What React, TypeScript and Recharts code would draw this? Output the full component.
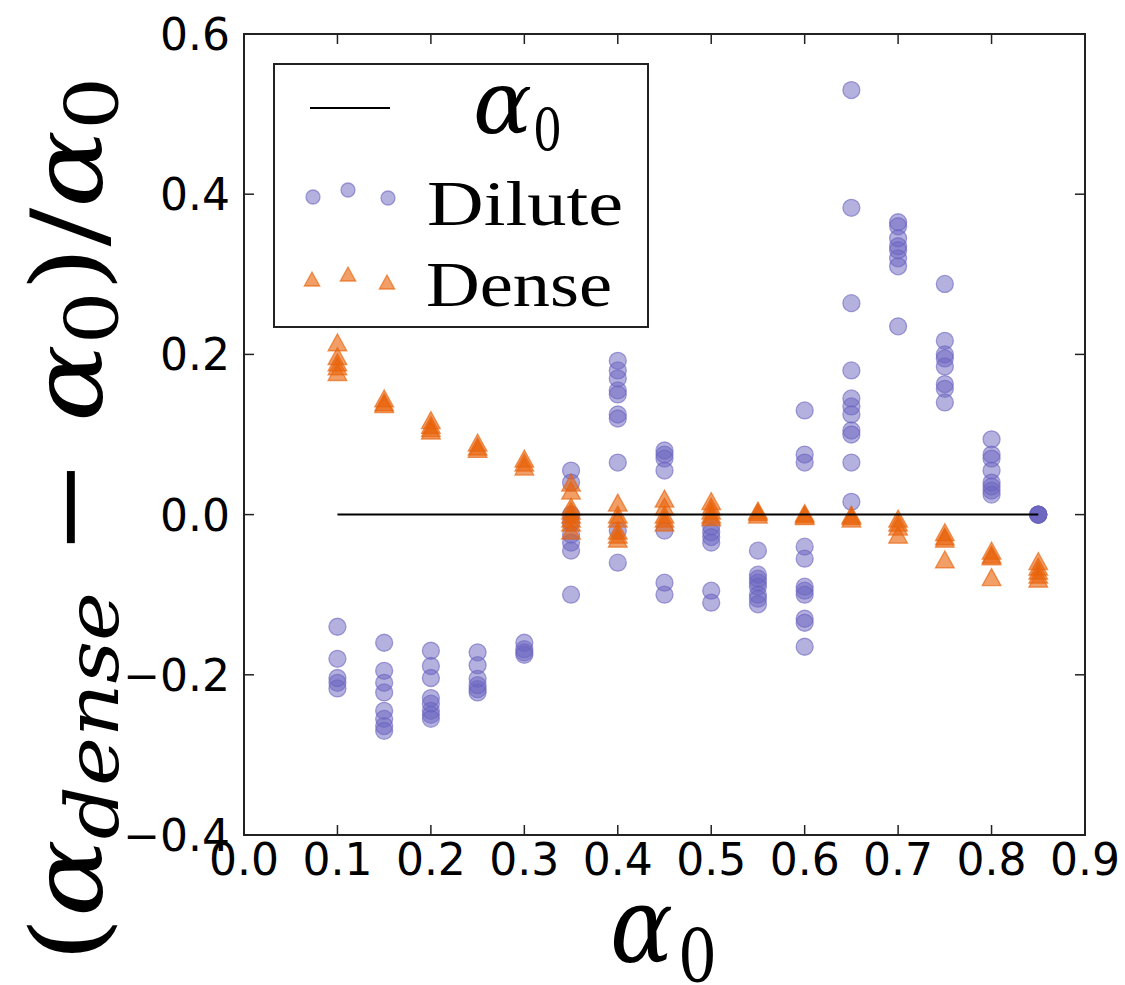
import React from "react";
import {
  Label,
  Legend,
  ReferenceArea,
  Scatter,
  ScatterChart,
  XAxis,
  YAxis,
} from "recharts";

// alpha_0 values where the runs were made
const ALPHA0 = [0.1, 0.15, 0.2, 0.25, 0.3, 0.35, 0.4, 0.45, 0.5, 0.55, 0.6, 0.65, 0.7, 0.75, 0.8, 0.85];

// relative error per run, one list for each alpha_0
const DILUTE_VALUES = [
  [-0.14, -0.18, -0.204, -0.21, -0.217],
  [-0.16, -0.195, -0.21, -0.222, -0.245, -0.255, -0.264, -0.27],
  [-0.17, -0.189, -0.204, -0.229, -0.236, -0.245, -0.25, -0.255],
  [-0.172, -0.188, -0.205, -0.213, -0.218, -0.222],
  [-0.16, -0.168, -0.172, -0.175],
  [0.055, 0.04, 0.0, -0.01, -0.025, -0.035, -0.045, -0.1],
  [0.192, 0.18, 0.17, 0.155, 0.15, 0.125, 0.12, 0.065, -0.02, -0.06],
  [0.08, 0.075, 0.07, 0.055, -0.02, -0.085, -0.1],
  [-0.015, -0.022, -0.028, -0.035, -0.095, -0.11],
  [-0.045, -0.075, -0.08, -0.085, -0.09, -0.1, -0.105, -0.112],
  [0.13, 0.075, 0.065, -0.04, -0.055, -0.09, -0.095, -0.1, -0.13, -0.135, -0.165],
  [0.53, 0.383, 0.264, 0.18, 0.145, 0.135, 0.125, 0.105, 0.1, 0.065, 0.016],
  [0.365, 0.36, 0.345, 0.335, 0.33, 0.32, 0.31, 0.235],
  [0.288, 0.217, 0.2, 0.195, 0.185, 0.163, 0.157, 0.14],
  [0.094, 0.075, 0.07, 0.055, 0.04, 0.035, 0.03, 0.025],
  [0, 0, 0, 0, 0],
];

const DENSE_VALUES = [
  [0.215, 0.198, 0.19, 0.185, 0.178],
  [0.145, 0.14, 0.138],
  [0.118, 0.112, 0.108, 0.105],
  [0.09, 0.085, 0.082],
  [0.07, 0.065, 0.06],
  [0.04, 0.03, 0.01, 0.005, 0.0, -0.005, -0.01, -0.02],
  [0.015, 0.0, -0.005, -0.02, -0.025, -0.03],
  [0.02, 0.01, 0.0, -0.005, -0.01],
  [0.017, 0.01, 0.005, 0.0, -0.003],
  [0.005, 0.003, 0.0],
  [0.002, 0.0, -0.002],
  [0.0, -0.002, -0.005],
  [-0.005, -0.01, -0.015, -0.025],
  [-0.022, -0.027, -0.03, -0.056],
  [-0.045, -0.05, -0.052, -0.078],
  [-0.058, -0.065, -0.07, -0.075, -0.08],
];

const REF_X = [0.1, 0.85];
const X_TICKS = [0, 0.1, 0.2, 0.3, 0.4, 0.5, 0.6, 0.7, 0.8, 0.9];
const Y_TICKS = [-0.4, -0.2, 0, 0.2, 0.4, 0.6];

const PURPLE = "#6a64c0";
const ORANGE = "#e8620a";

const W = 1125;
const H = 985;
const TOP = 34;
const RIGHT = 1085;
const TICK_LEN = 10;
const TICK_FONT = "DejaVu Sans, sans-serif";
const SERIF = "Liberation Serif, serif";
const MATH = "DejaVu Serif, serif";

const dilute = ALPHA0.flatMap((x, i) => DILUTE_VALUES[i].map((y) => ({ x, y })));
const dense = ALPHA0.flatMap((x, i) => DENSE_VALUES[i].map((y) => ({ x, y })));
const refLine = REF_X.map((x) => ({ x, y: 0 }));

function fmt(v: number) {
  const s = Math.abs(v).toFixed(1);
  return v < -1e-9 ? "\u2212" + s : s;
}

function CircleMark({ cx, cy, r = 8.5 }: any) {
  return (
    <circle
      cx={cx}
      cy={cy}
      r={r}
      fill={PURPLE}
      fillOpacity={0.5}
      stroke={PURPLE}
      strokeOpacity={0.6}
      strokeWidth={1.3}
    />
  );
}

function TriangleMark({ cx, cy, s = 8.5 }: any) {
  const pts = `${cx},${cy - s} ${cx - s * 1.1},${cy + s} ${cx + s * 1.1},${cy + s}`;
  return (
    <polygon
      points={pts}
      fill={ORANGE}
      fillOpacity={0.62}
      stroke={ORANGE}
      strokeOpacity={0.65}
      strokeWidth={1.3}
    />
  );
}

const NoMark = () => <g />;

function XTick({ x, y, payload }: any) {
  return (
    <g>
      <line x1={x} y1={y} x2={x} y2={y - TICK_LEN} stroke="#222" strokeWidth={1.5} />
      <line x1={x} y1={TOP} x2={x} y2={TOP + TICK_LEN} stroke="#222" strokeWidth={1.5} />
      <text x={x} y={y + 40} textAnchor="middle" fontFamily={TICK_FONT} fontSize={44} fill="#000">
        {fmt(payload.value)}
      </text>
    </g>
  );
}

function YTick({ x, y, payload }: any) {
  return (
    <g>
      <line x1={x} y1={y} x2={x + TICK_LEN} y2={y} stroke="#222" strokeWidth={1.5} />
      <line x1={RIGHT - TICK_LEN} y1={y} x2={RIGHT} y2={y} stroke="#222" strokeWidth={1.5} />
      <text x={x - 14} y={y + 16} textAnchor="end" fontFamily={TICK_FONT} fontSize={44} fill="#000">
        {fmt(payload.value)}
      </text>
    </g>
  );
}

function XTitle() {
  return (
    <g fontFamily={MATH}>
      <text x={610} y={962} fontSize={104} fontStyle="italic" textLength={63} lengthAdjust="spacingAndGlyphs">
        α
      </text>
      <text x={678} y={982} fontSize={72} textLength={39} lengthAdjust="spacingAndGlyphs">
        0
      </text>
    </g>
  );
}

function YTitle() {
  return (
    <g transform="translate(102, 962) rotate(-90)" fontFamily={MATH}>
      <text x={0} y={0} fontSize={100} textLength={885} lengthAdjust="spacingAndGlyphs">
        <tspan>(</tspan>
        <tspan fontStyle="italic">α</tspan>
        <tspan fontStyle="italic" fontSize={72} dy={16}>dense</tspan>
        <tspan dy={-16}>{"\u00a0\u2212\u00a0"}</tspan>
        <tspan fontStyle="italic">α</tspan>
        <tspan fontSize={72} dy={16}>0</tspan>
        <tspan dy={-16}>)/</tspan>
        <tspan fontStyle="italic">α</tspan>
        <tspan fontSize={72} dy={16}>0</tspan>
      </text>
    </g>
  );
}

const LX = 273;
const LY = 63;
const LW = 376;
const LH = 265;

function LegendBox() {
  const p = (x: number, y: number) => ({ cx: x - LX, cy: y - LY });
  return (
    <svg width={LW} height={LH} style={{ display: "block" }}>
      <rect x={1} y={1} width={LW - 2} height={LH - 2} fill="#fff" stroke="#222" strokeWidth={2} />
      <line x1={310 - LX} y1={108 - LY} x2={390 - LX} y2={108 - LY} stroke="#000" strokeWidth={2} />
      <text x={473 - LX} y={133 - LY} fontFamily={MATH} fontSize={88} fontStyle="italic" textLength={59} lengthAdjust="spacingAndGlyphs">
        α
      </text>
      <text x={533 - LX} y={150 - LY} fontFamily={MATH} fontSize={58} textLength={29} lengthAdjust="spacingAndGlyphs">
        0
      </text>
      <g fontFamily={SERIF}>
        <text x={427 - LX} y={225 - LY} fontSize={64} textLength={196} lengthAdjust="spacingAndGlyphs">
          Dilute
        </text>
        <text x={426 - LX} y={306 - LY} fontSize={64} textLength={186} lengthAdjust="spacingAndGlyphs">
          Dense
        </text>
      </g>
      <CircleMark {...p(313, 197)} r={7} />
      <CircleMark {...p(348, 190)} r={7} />
      <CircleMark {...p(388, 198)} r={7} />
      <TriangleMark {...p(312, 279)} s={7} />
      <TriangleMark {...p(348, 274)} s={7} />
      <TriangleMark {...p(387, 282)} s={7} />
    </svg>
  );
}

export default function App() {
  return (
    <div style={{ position: "absolute", left: 0, top: 0, width: W, height: H, background: "#fff" }}>
      <ScatterChart width={W} height={H} margin={{ top: TOP, right: W - RIGHT, bottom: 0, left: 0 }}>
        <XAxis
          type="number"
          dataKey="x"
          domain={[0, 0.9]}
          ticks={X_TICKS}
          interval={0}
          height={150}
          tickSize={0}
          tickMargin={0}
          axisLine={false}
          tickLine={false}
          tick={XTick}
          allowDataOverflow
        >
          <Label content={XTitle} />
        </XAxis>
        <YAxis
          type="number"
          dataKey="y"
          domain={[-0.4, 0.6]}
          ticks={Y_TICKS}
          interval={0}
          width={244}
          tickSize={0}
          tickMargin={0}
          axisLine={false}
          tickLine={false}
          tick={YTick}
          allowDataOverflow
        >
          <Label content={YTitle} />
        </YAxis>
        <ReferenceArea x1={0} x2={0.9} y1={-0.4} y2={0.6} fill="none" stroke="#222" strokeWidth={2} />
        <Scatter name="Dilute" data={dilute} shape={CircleMark} isAnimationActive={false} />
        <Scatter name="Dense" data={dense} shape={TriangleMark} isAnimationActive={false} />
        <Scatter
          name="alpha0"
          data={refLine}
          shape={NoMark}
          line={{ stroke: "#000", strokeWidth: 2 }}
          isAnimationActive={false}
        />
        <Legend
          layout="vertical"
          align="center"
          verticalAlign="middle"
          content={LegendBox}
          wrapperStyle={{ left: LX, top: LY, width: LW, height: LH }}
        />
      </ScatterChart>
    </div>
  );
}
